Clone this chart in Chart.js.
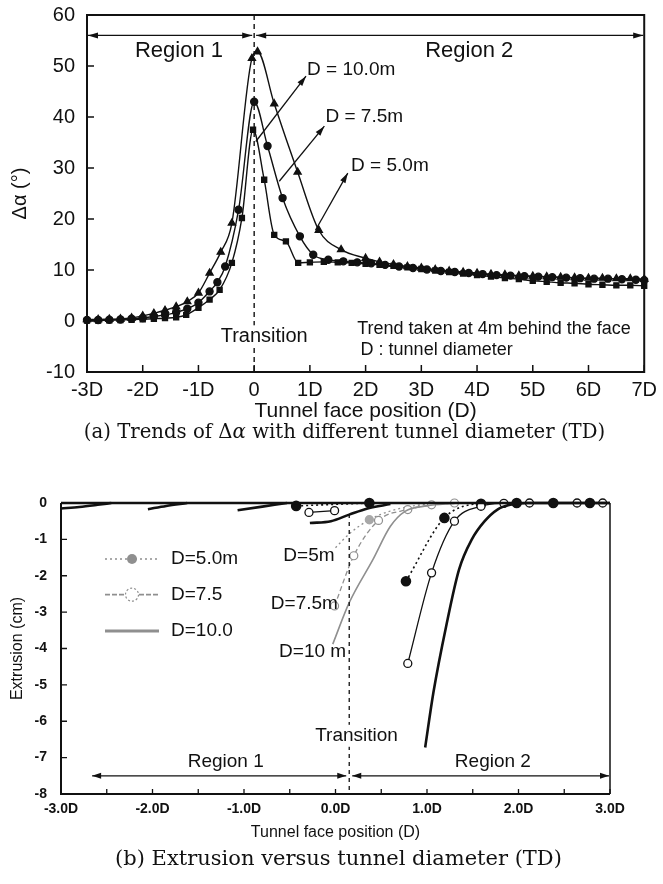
<!DOCTYPE html>
<html><head><meta charset="utf-8">
<script src="https://cdn.jsdelivr.net/npm/chart.js@4/dist/chart.umd.min.js"></script>
<style>
body{margin:0;background:#fff;}
#page{position:relative;width:663px;height:884px;background:#fff;overflow:hidden;}
canvas{position:absolute;left:0;}
.cap{position:absolute;width:663px;text-align:center;font-family:"DejaVu Serif","Liberation Serif",serif;color:#111;white-space:nowrap;line-height:24px;}
</style></head><body>
<div id="page">
<canvas id="ca" width="663" height="425" style="top:0"></canvas>
<div class="cap" style="top:420px;left:13px;font-size:19.7px">(a) Trends of Δ<i>α</i> with different tunnel diameter (TD)</div>
<canvas id="cb" width="663" height="380" style="top:470px"></canvas>
<div class="cap" style="top:846px;left:7px;font-size:21px">(b) Extrusion versus tunnel diameter (TD)</div>
</div>
<script>
// ================= Chart (a) data =================
const aXTicks = [-3,-2,-1,0,1,2,3,4,5,6,7];
const aTransition = 0;
const aD10x = [-3.0,-2.8,-2.6,-2.4,-2.2,-2.0,-1.8,-1.6,-1.4,-1.2,-1.0,-0.8,-0.6,-0.4,-0.04,0.06,0.36,0.78,1.16,1.56,2.0,2.25,2.5,2.75,3.0,3.25,3.5,3.75,4.0,4.25,4.5,4.75,5.0,5.25,5.5,5.75,6.0,6.25,6.5,6.75,7.0];
const aD10y = [0.3,0.3,0.35,0.4,0.6,1.0,1.5,2.1,2.8,3.8,5.5,9.4,13.5,19.2,51.5,52.8,42.6,29.2,17.8,14.0,12.3,11.6,11.1,10.7,10.4,10.1,9.8,9.6,9.4,9.2,9.1,8.9,8.8,8.7,8.6,8.5,8.4,8.4,8.3,8.3,8.2];
const aD75x = [-3.0,-2.8,-2.6,-2.4,-2.2,-2.0,-1.8,-1.6,-1.4,-1.2,-1.0,-0.8,-0.66,-0.52,-0.28,0.0,0.24,0.51,0.82,1.06,1.33,1.6,1.85,2.1,2.35,2.6,2.85,3.1,3.35,3.6,3.85,4.1,4.35,4.6,4.85,5.1,5.35,5.6,5.85,6.1,6.35,6.6,6.85,7.0];
const aD75y = [0.2,0.2,0.25,0.3,0.45,0.6,0.9,1.2,1.7,2.4,3.6,5.8,7.6,10.7,21.8,43.0,34.3,24.1,16.6,13.0,12.0,11.7,11.5,11.3,11.0,10.7,10.4,10.1,9.8,9.6,9.4,9.2,9.0,8.9,8.8,8.7,8.6,8.5,8.4,8.3,8.3,8.2,8.1,8.0];
const aD50x = [-3.0,-2.8,-2.6,-2.4,-2.2,-2.0,-1.8,-1.6,-1.4,-1.22,-1.0,-0.8,-0.62,-0.4,-0.22,-0.02,0.18,0.36,0.57,0.79,1.0,1.25,1.5,1.75,2.0,2.25,2.5,2.75,3.0,3.25,3.5,3.75,4.0,4.25,4.5,4.75,5.0,5.25,5.5,5.75,6.0,6.25,6.5,6.75,7.0];
const aD50y = [0.1,0.1,0.15,0.2,0.25,0.35,0.45,0.55,0.7,1.2,2.6,4.2,6.1,11.4,20.2,37.5,27.7,16.9,15.6,11.4,11.5,11.6,11.5,11.4,11.2,11.0,10.8,10.5,10.2,9.9,9.6,9.3,9.0,8.7,8.4,8.2,7.9,7.7,7.5,7.4,7.2,7.1,7.0,7.0,6.9];

// ================= Chart (b) data =================
const bXTicks = [-3,-2,-1,0,1,2,3];
const bXMinor = [-2.5,-1.5,-0.5,0.5,1.5,2.5];
const bTransition = 0.15;
// black thick (D=10.0) profiles
const bK10ax = [-3.0,-2.8,-2.6,-2.45],            bK10ay = [-0.15,-0.11,-0.05,0];
const bK10bx = [-2.05,-1.85,-1.62],               bK10by = [-0.17,-0.08,0];
const bK10cx = [-1.07,-0.8,-0.53],                bK10cy = [-0.2,-0.1,0];
const bK10dx = [-0.28,-0.05,0.15,0.35,0.6],       bK10dy = [-0.55,-0.5,-0.32,-0.15,-0.03];
const bK10ex = [0.98,1.07,1.21,1.35,1.49,1.63,1.77,1.91,2.1,3.0];
const bK10ey = [-6.72,-5.21,-3.38,-1.83,-1.0,-0.5,-0.18,-0.05,0,0];
// black thin with open circles (D=7.5)
const bK75ax = [-0.29,-0.01],                     bK75ay = [-0.26,-0.21];
const bK75bx = [0.79,1.05,1.3,1.59,1.84,2.12,2.64,2.92];
const bK75by = [-4.41,-1.92,-0.5,-0.09,-0.01,0,0,0];
// black dotted with filled circles (D=5.0)
const bK5ax = [-0.43,0.37],                       bK5ay = [-0.08,0];
const bK5bx = [0.77,1.19,1.59,1.98,2.38,2.78];
const bK5by = [-2.15,-0.41,-0.02,0,0,0];
// grey profiles at transition
const bG5x  = [0.0,0.15,0.37,0.6,0.85,1.1],       bG5y  = [-1.23,-0.85,-0.46,-0.22,-0.08,-0.01];
const bG75x = [-0.01,0.2,0.47,0.79,1.05,1.3],     bG75y = [-2.83,-1.45,-0.48,-0.18,-0.05,0];
const bG10x = [-0.03,0.15,0.41,0.6,0.76,1.0,1.3], bG10y = [-3.88,-2.74,-1.55,-0.64,-0.23,-0.08,-0.01];

// ================= helpers =================
const FONT = '"Liberation Sans", Arial, Helvetica, sans-serif';
Chart.defaults.font.family = FONT;
Chart.defaults.color = '#111';
function pts(xs, ys){ return xs.map((x,i)=>({x:x, y:ys[i]})); }
function arrowHead(ctx, x, y, ang, len, wid){
  ctx.save(); ctx.translate(x,y); ctx.rotate(ang);
  ctx.beginPath(); ctx.moveTo(0,0); ctx.lineTo(-len, wid/2); ctx.lineTo(-len,-wid/2); ctx.closePath(); ctx.fill();
  ctx.restore();
}
function arrow(ctx, x1,y1,x2,y2, both, len, wid){
  ctx.beginPath(); ctx.moveTo(x1,y1); ctx.lineTo(x2,y2); ctx.stroke();
  const a = Math.atan2(y2-y1, x2-x1);
  arrowHead(ctx,x2,y2,a,len,wid);
  if(both) arrowHead(ctx,x1,y1,a+Math.PI,len,wid);
}
function textBg(ctx, txt, x, y, pad){
  const w = ctx.measureText(txt).width;
  ctx.save(); ctx.fillStyle='#fff';
  ctx.fillRect(x-w/2-pad, y-11, w+2*pad, 22); ctx.restore();
  ctx.fillText(txt, x, y);
}
function lineDs(xs, ys, o){
  return Object.assign({data: pts(xs,ys), showLine:true, cubicInterpolationMode:'monotone', clip:8,
    borderColor:'#111', backgroundColor:'#111', borderWidth:1.4, pointRadius:0, pointHoverRadius:0}, o);
}

// ================= Chart (a) =================
const annA = {
  id:'annA',
  afterDatasetsDraw(chart){
    const {ctx, chartArea:ca, scales:{x, y}} = chart;
    const X = v=>x.getPixelForValue(v), Y = v=>y.getPixelForValue(v);
    ctx.save();
    ctx.strokeStyle='#111'; ctx.fillStyle='#111';
    ctx.lineWidth = 2;
    ctx.strokeRect(ca.left, ca.top, ca.right-ca.left, ca.bottom-ca.top);
    ctx.lineWidth = 1.5; ctx.beginPath();
    x.ticks.forEach(t=>{ const p=X(t.value); ctx.moveTo(p, ca.bottom); ctx.lineTo(p, ca.bottom-7); });
    y.ticks.forEach(t=>{ const p=Y(t.value); ctx.moveTo(ca.left, p); ctx.lineTo(ca.left+7, p); });
    ctx.stroke();
    // transition
    ctx.setLineDash([5,4]); ctx.lineWidth=1.4;
    ctx.beginPath(); ctx.moveTo(X(aTransition), ca.top); ctx.lineTo(X(aTransition), ca.bottom); ctx.stroke();
    ctx.setLineDash([]);
    // regions
    ctx.lineWidth=1.3;
    arrow(ctx, X(-3)+1, Y(56), X(0)-2, Y(56), true, 10, 6);
    arrow(ctx, X(0)+2, Y(56), X(7)-1, Y(56), true, 10, 6);
    // leader arrows
    arrow(ctx, X(0.03), Y(35.2), X(0.93), Y(48), false, 10, 6);
    arrow(ctx, X(0.45), Y(27.4), X(1.26), Y(38.2), false, 10, 6);
    arrow(ctx, X(1.1), Y(17.8), X(1.68), Y(29), false, 10, 6);
    ctx.textBaseline='middle';
    ctx.font = '22px ' + FONT; ctx.textAlign='center';
    ctx.fillText('Region 1', X(-1.35), Y(53));
    ctx.fillText('Region 2', X(3.86), Y(53));
    ctx.font = '19px ' + FONT; ctx.textAlign='left';
    ctx.fillText('D = 10.0m', X(0.95), Y(49.3));
    ctx.fillText('D = 7.5m', X(1.28), Y(40));
    ctx.fillText('D = 5.0m', X(1.74), Y(30.5));
    ctx.font = '20px '+FONT; ctx.textAlign='center';
    textBg(ctx, 'Transition', X(0.18), Y(-3), 1);
    ctx.font='18px '+FONT; ctx.textAlign='left';
    ctx.fillText('Trend taken at 4m behind the face', X(1.85), Y(-1.5));
    ctx.fillText('D : tunnel diameter', X(1.91), Y(-5.6));
    ctx.restore();
  }
};

new Chart(document.getElementById('ca'), {
  type:'scatter',
  data:{datasets:[
    lineDs(aD10x, aD10y, {label:'D = 10.0m', pointStyle:'triangle', pointRadius:4}),
    lineDs(aD75x, aD75y, {label:'D = 7.5m', pointStyle:'circle', pointRadius:3.5}),
    lineDs(aD50x, aD50y, {label:'D = 5.0m', pointStyle:'rect', pointRadius:3.5})
  ]},
  options:{
    responsive:false, animation:false, events:[],
    layout:{padding:{left:0,right:16,top:15,bottom:0}},
    plugins:{legend:{display:false}, tooltip:{enabled:false}},
    scales:{
      x:{type:'linear', min:-3, max:7,
        afterBuildTicks:s=>{ s.ticks = aXTicks.map(v=>({value:v})); },
        afterFit:s=>{ s.height = 53; },
        grid:{display:false, drawTicks:false}, border:{display:false},
        ticks:{callback:v=> v===0 ? '0' : v+'D', font:{size:20}, padding:6, maxRotation:0, autoSkip:false},
        title:{display:true, text:'Tunnel face position (D)', font:{size:21}, padding:{top:0,bottom:1}}},
      y:{min:-10, max:60,
        afterFit:s=>{ s.width = 87; s.paddingTop = 0; s.paddingBottom = 0; },
        grid:{display:false, drawTicks:false}, border:{display:false},
        ticks:{stepSize:10, font:{size:20}, padding:12},
        title:{display:true, text:'Δα (°)', font:{size:20}, padding:{top:8,bottom:0}}}
    }
  },
  plugins:[annA]
});

// ================= Chart (b) =================
const GREY = '#8f8f8f';
const annB = {
  id:'annB',
  afterDatasetsDraw(chart){
    const {ctx, chartArea:ca, scales:{x, y}} = chart;
    const X = v=>x.getPixelForValue(v), Y = v=>y.getPixelForValue(v);
    ctx.save();
    ctx.strokeStyle='#111'; ctx.fillStyle='#111';
    ctx.lineWidth=2;
    ctx.beginPath(); ctx.moveTo(ca.left, ca.top); ctx.lineTo(ca.left, ca.bottom); ctx.lineTo(ca.right, ca.bottom); ctx.stroke();
    ctx.lineWidth=1.5;
    ctx.beginPath(); ctx.moveTo(ca.right, ca.top); ctx.lineTo(ca.right, ca.bottom); ctx.stroke();
    ctx.lineWidth=2.5;
    ctx.beginPath(); ctx.moveTo(ca.left, ca.top); ctx.lineTo(ca.right, ca.top); ctx.stroke();
    ctx.lineWidth=1.3; ctx.beginPath();
    y.ticks.forEach(t=>{ const p=Y(t.value); ctx.moveTo(ca.left, p); ctx.lineTo(ca.left+6, p); });
    bXTicks.concat(bXMinor).forEach(v=>{ const p=X(v); ctx.moveTo(p, ca.bottom); ctx.lineTo(p, ca.bottom-5); });
    ctx.stroke();
    // transition
    ctx.setLineDash([4,4]); ctx.lineWidth=1.3;
    ctx.beginPath(); ctx.moveTo(X(bTransition), Y(-0.3)); ctx.lineTo(X(bTransition), ca.bottom); ctx.stroke();
    ctx.setLineDash([]);
    // regions
    ctx.lineWidth=1.3;
    arrow(ctx, X(-2.66), Y(-7.5), X(bTransition)-3, Y(-7.5), true, 9, 6);
    arrow(ctx, X(bTransition)+3, Y(-7.5), ca.right-1, Y(-7.5), true, 9, 6);
    ctx.textBaseline='middle'; ctx.textAlign='center';
    ctx.font='19px '+FONT;
    ctx.fillText('Region 1', X(-1.2), Y(-7.11));
    ctx.fillText('Region 2', X(1.72), Y(-7.11));
    textBg(ctx, 'Transition', X(0.23), Y(-6.4), 1);
    ctx.fillText('D=5m', X(-0.29), Y(-1.46));
    ctx.fillText('D=7.5m', X(-0.34), Y(-2.76));
    ctx.fillText('D=10 m', X(-0.25), Y(-4.1));
    // legend
    const lx1 = ca.left+44, lx2 = ca.left+98, lm = (lx1+lx2)/2, tx = ca.left+110;
    const r1 = Y(-1.54), r2 = Y(-2.52), r3 = Y(-3.52);
    ctx.strokeStyle=GREY; ctx.fillStyle=GREY;
    ctx.setLineDash([2,3]); ctx.lineWidth=1.4;
    ctx.beginPath(); ctx.moveTo(lx1,r1); ctx.lineTo(lx2,r1); ctx.stroke();
    ctx.setLineDash([]);
    ctx.beginPath(); ctx.arc(lm, r1, 5, 0, Math.PI*2); ctx.fill();
    ctx.setLineDash([5,2]); ctx.lineWidth=1.6;
    ctx.beginPath(); ctx.moveTo(lx1,r2); ctx.lineTo(lm-7,r2); ctx.moveTo(lm+7,r2); ctx.lineTo(lx2,r2); ctx.stroke();
    ctx.setLineDash([2,2]); ctx.lineWidth=1.2;
    ctx.beginPath(); ctx.arc(lm, r2, 6.5, 0, Math.PI*2); ctx.stroke();
    ctx.setLineDash([]); ctx.lineWidth=3;
    ctx.beginPath(); ctx.moveTo(lx1,r3); ctx.lineTo(lx2,r3); ctx.stroke();
    ctx.fillStyle='#111'; ctx.textAlign='left'; ctx.font='19px '+FONT;
    ctx.fillText('D=5.0m', tx, r1);
    ctx.fillText('D=7.5', tx, r2);
    ctx.fillText('D=10.0', tx, r3);
    ctx.restore();
  }
};

const thick = {borderWidth:2.6};
const openK = {borderWidth:1.3, pointStyle:'circle', pointRadius:4, pointBackgroundColor:'#fff', pointBorderColor:'#111', pointBorderWidth:1.3};
const dotK  = {borderWidth:1.6, borderDash:[2,3], pointStyle:'circle', pointRadius:4.5, pointBackgroundColor:'#111', pointBorderColor:'#111'};

new Chart(document.getElementById('cb'), {
  type:'scatter',
  data:{datasets:[
    lineDs(bG10x, bG10y, {label:'D=10 m (transition)', borderColor:GREY, borderWidth:1.6}),
    lineDs(bG75x, bG75y, {label:'D=7.5m (transition)', borderColor:GREY, borderWidth:1.3, borderDash:[5,3], pointRadius:4, pointBackgroundColor:'#fff', pointBorderColor:GREY, pointBorderWidth:1.2}),
    lineDs(bG5x, bG5y, {label:'D=5m (transition)', borderColor:GREY, borderWidth:1.3, borderDash:[2,3], pointRadius:[0,0,4,0,0,0], pointBackgroundColor:'#a8a8a8', pointBorderColor:'#a8a8a8'}),
    lineDs(bK10ax, bK10ay, Object.assign({label:'D=10.0'}, thick)),
    lineDs(bK10bx, bK10by, Object.assign({label:'D=10.0'}, thick)),
    lineDs(bK10cx, bK10cy, Object.assign({label:'D=10.0'}, thick)),
    lineDs(bK10dx, bK10dy, Object.assign({label:'D=10.0'}, thick)),
    lineDs(bK10ex, bK10ey, Object.assign({label:'D=10.0'}, thick)),
    lineDs(bK75ax, bK75ay, Object.assign({label:'D=7.5'}, openK)),
    lineDs(bK75bx, bK75by, Object.assign({label:'D=7.5'}, openK)),
    lineDs(bK5ax, bK5ay, Object.assign({label:'D=5.0m'}, dotK)),
    lineDs(bK5bx, bK5by, Object.assign({label:'D=5.0m'}, dotK))
  ]},
  options:{
    responsive:false, animation:false, events:[],
    layout:{padding:{left:0,right:53,top:33,bottom:0}},
    plugins:{legend:{display:false}, tooltip:{enabled:false}},
    scales:{
      x:{type:'linear', min:-3, max:3,
        afterBuildTicks:s=>{ s.ticks = bXTicks.map(v=>({value:v})); },
        afterFit:s=>{ s.height = 56; },
        grid:{display:false, drawTicks:false}, border:{display:false},
        ticks:{callback:v=> v.toFixed(1)+'D', font:{size:14, weight:'bold'}, padding:7, maxRotation:0, autoSkip:false},
        title:{display:true, text:'Tunnel face position (D)', font:{size:16}, padding:{top:0,bottom:8}}},
      y:{min:-8, max:0,
        afterFit:s=>{ s.width = 61; },
        grid:{display:false, drawTicks:false}, border:{display:false},
        ticks:{stepSize:1, font:{size:14, weight:'bold'}, padding:14},
        title:{display:true, text:'Extrusion (cm)', font:{size:16}, padding:{top:8,bottom:0}}}
    }
  },
  plugins:[annB]
});
</script>
</body></html>
